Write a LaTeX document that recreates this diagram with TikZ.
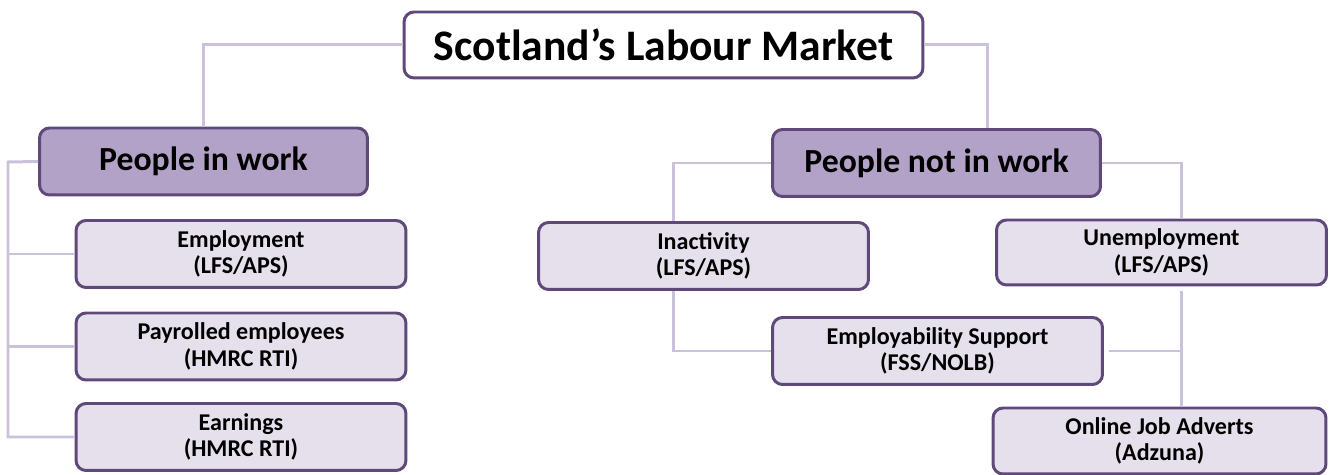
\documentclass[tikz,border=0pt]{standalone}
\usepackage{fontspec}
\setmainfont{Carlito}
\definecolor{boxline}{HTML}{5F497A}
\definecolor{mainfill}{HTML}{B3A2C7}
\definecolor{subfill}{HTML}{E5E0EC}
\definecolor{linkcol}{HTML}{CCC1DA}
\tikzset{
		box/.style={
			draw=boxline, line width=1.7pt, rounded corners=0.2cm,
			align=center, inner sep=0pt
		},
		topbox/.style={box, fill=white, minimum width=10.38cm, minimum height=1.32cm,
			font=\fontsize{24.8}{28}\selectfont\bfseries},
		headbox/.style={box, fill=mainfill, minimum width=6.56cm, minimum height=1.34cm,
			font=\fontsize{19.2}{22}\selectfont\bfseries},
		subbox/.style={box, fill=subfill, minimum width=6.6cm, minimum height=1.34cm,
			font=\fontsize{13.7}{15}\selectfont\bfseries},
		link/.style={draw=linkcol, line width=1.7pt}
	}
\begin{document}
\begin{tikzpicture}[x=0.02cm, y=-0.02cm]
	\useasboundingbox (0,0) rectangle (1334,475);
	% top
	\node[topbox] (title) at (663.5,45) {Scotland’s Labour Market};
	% people in work
	\node[headbox] (inwork) at (203.5,161.5) {People in work};
	\node[subbox] (emp) at (241,254) {Employment\\(LFS/APS)};
	\node[subbox] (payroll) at (241,346.5) {Payrolled employees\\(HMRC RTI)};
	\node[subbox] (earn) at (241,437) {Earnings\\(HMRC RTI)};
	% people not in work
	\node[headbox] (notwork) at (936.5,163) {People not in work};
	\node[subbox] (inact) at (703.5,256) {Inactivity\\(LFS/APS)};
	\node[subbox, minimum height=1.3cm] (unemp) at (1161.5,252.5) {Unemployment\\(LFS/APS)};
	\node[subbox] (supp) at (937.5,351) {Employability Support\\(FSS/NOLB)};
	\node[subbox, minimum width=6.66cm, minimum height=1.32cm] (online) at (1159.5,441) {Online Job Adverts\\(Adzuna)};
	% links
	\coordinate (trunkL) at (8,162);
	\draw[link] (title.west) -| (inwork.north);
	\draw[link] (title.east) -| ([xshift=1.01cm]notwork.north);
	\draw[link] (inwork.west) -- (trunkL) |- (earn.west);
	\draw[link] (trunkL |- emp.west) -- (emp.west);
	\draw[link] (trunkL |- payroll.west) -- (payroll.west);
	\draw[link] (notwork.west) -| ([xshift=-0.61cm]inact.north);
	\draw[link] ([xshift=-0.61cm]inact.south) |- (supp.west);
	\draw[link] (notwork.east) -| ([xshift=0.39cm]unemp.north);
	\draw[link, shorten <=0.1cm] ([xshift=0.39cm]unemp.south) coordinate (ru) -- (ru |- online.north);
	\draw[link, shorten <=0.1cm] (supp.east) -- (supp.east -| ru);
\end{tikzpicture}
\end{document}
